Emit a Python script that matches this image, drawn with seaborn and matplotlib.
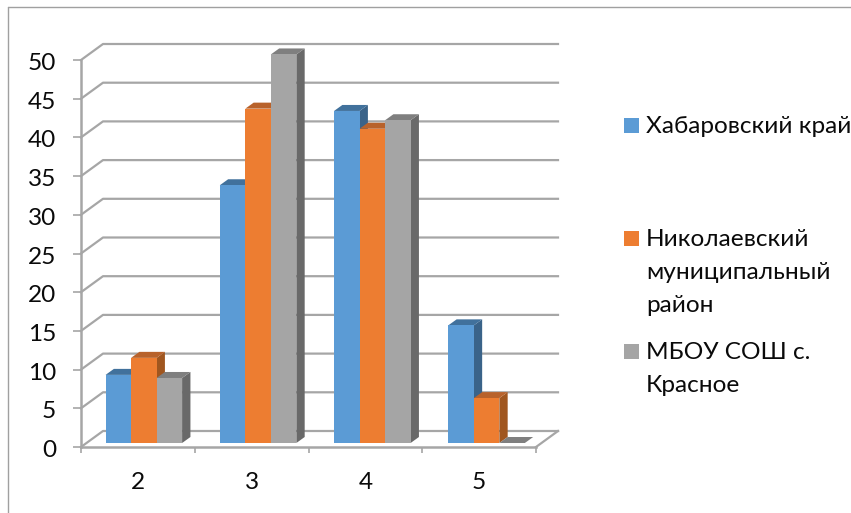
import matplotlib
matplotlib.use("Agg")
import matplotlib.pyplot as plt
from matplotlib.lines import Line2D
from matplotlib.patches import Polygon, Rectangle
from matplotlib.transforms import ScaledTranslation
import pandas as pd
import seaborn as sns

categories = ["2", "3", "4", "5"]
series_names = ["Хабаровский край", "Николаевский\nмуниципальный\nрайон", "МБОУ СОШ с.\nКрасное"]
krai = [8.8, 33.3, 42.9, 15.2]
rayon = [11.0, 43.2, 40.6, 5.8]
school = [8.4, 50.2, 41.7, 0.0]
yticks = list(range(0, 55, 5))

front = ["#5B9BD5", "#ED7D31", "#A5A5A5"]
side = ["#3A6389", "#A0561F", "#696969"]
top = ["#41719C", "#B8622B", "#7F7F7F"]
GRID = "#A6A6A6"
TEXT = "#0A0A0A"

W, H = 851, 513
sns.set_theme(style="white")
plt.rcParams["font.family"] = ["Lato", "Open Sans", "DejaVu Sans"]

fig = plt.figure(figsize=(W / 100, H / 100), dpi=100, facecolor="white")

def box(x0, y_bottom, w, h):
    return [x0 / W, (H - y_bottom) / H, w / W, h / H]

PLOT_W, PLOT_H = 455, 387
wall = fig.add_axes(box(81, 447, PLOT_W, PLOT_H))
bars = fig.add_axes(box(86.7, 443, PLOT_W + 2, PLOT_H))
bars.patch.set_alpha(0)

xlim = (-0.5, len(categories) - 0.5)
ylim = (0, 50)
ux = PLOT_W / (xlim[1] - xlim[0])   # px per category
uy = PLOT_H / (ylim[1] - ylim[0])   # px per value

# back wall / floor drawn with the axis scales
wall.set_xlim(*xlim)
wall.set_ylim(*ylim)
ddx, ddy = 22 / ux, 16 / uy
lk = dict(color=GRID, lw=1.6, clip_on=False, solid_capstyle="projecting", zorder=1)
for v in yticks:
    wall.plot([xlim[0], xlim[0] + ddx, xlim[1] + ddx], [v, v + ddy, v + ddy], **lk)
wall.plot([xlim[1], xlim[1] + ddx], [0, ddy], **lk)
for s in ["top", "right"]:
    wall.spines[s].set_visible(False)
for s in ["left", "bottom"]:
    wall.spines[s].set_color(GRID)
    wall.spines[s].set_linewidth(1.8)
wall.set_yticks(yticks)
wall.set_xticks(range(len(categories)))
wall.set_xticklabels(categories)
wall.set_xticks([i - 0.5 for i in range(len(categories) + 1)], minor=True)
wall.tick_params(axis="y", length=5.8, width=1.2, color=GRID, pad=12, labelsize=17.6, labelcolor=TEXT, left=True)
wall.tick_params(axis="x", which="major", length=0, pad=18, labelsize=17.6, labelcolor=TEXT)
wall.tick_params(axis="x", which="minor", length=4.5, width=1.2, color=GRID, bottom=True)
wall.grid(False)
down = ScaledTranslation(0, -1.5 / 100, fig.dpi_scale_trans)
for lab in wall.get_yticklabels():
    lab.set_transform(lab.get_transform() + down)

# bars
df = pd.DataFrame({
    "cat": categories * 3,
    "value": krai + rayon + school,
    "series": [n for n in series_names for _ in categories],
})
sns.barplot(data=df, x="cat", y="value", hue="series", hue_order=series_names,
            palette=front, width=0.67, gap=0, saturation=1, legend=False, ax=bars, linewidth=0)
bars.set_xlim(*xlim)
bars.set_ylim(*ylim)
bars.axis("off")

# pseudo-3D faces
bdx, bdy = 8.3 / ux, 6 / uy
for k, cont in enumerate(bars.containers):
    z = 3 + k
    for r in cont.patches:
        r.set_zorder(z + 0.5)
        r.set_clip_on(False)
        x0, w, h = r.get_x(), r.get_width(), r.get_height()
        x1 = x0 + w
        bars.add_patch(Polygon([(x1, 0), (x1 + bdx, bdy), (x1 + bdx, h + bdy), (x1, h)],
                               facecolor=side[k], edgecolor="none", zorder=z, clip_on=False))
        bars.add_patch(Polygon([(x0, h), (x0 + bdx, h + bdy), (x1 + bdx, h + bdy), (x1, h)],
                               facecolor=top[k], edgecolor="none", zorder=z, clip_on=False))

# frame of the picture (left and top edges only)
fr = dict(color="#A0A0A0", lw=1.0, transform=fig.transFigure)
fig.add_artist(Line2D([7.5 / W, 7.5 / W], [0, 1 - 6.5 / H], **fr))
fig.add_artist(Line2D([7.5 / W, 1], [1 - 6.5 / H, 1 - 6.5 / H], **fr))

# legend: key and label at evenly spaced rows
row_y = [125.5, 238.5, 351.5]
for name, col, y in zip(series_names, front, row_y):
    fig.add_artist(Rectangle((624 / W, 1 - (y + 7.5) / H), 15 / W, 15 / H,
                             transform=fig.transFigure, facecolor=col, edgecolor="none"))
    fig.text(646 / W, 1 - (y - 9.5) / H, name, fontsize=17.6, color=TEXT,
             va="top", ha="left", linespacing=1.7)

fig.savefig("out.png", dpi=100)
